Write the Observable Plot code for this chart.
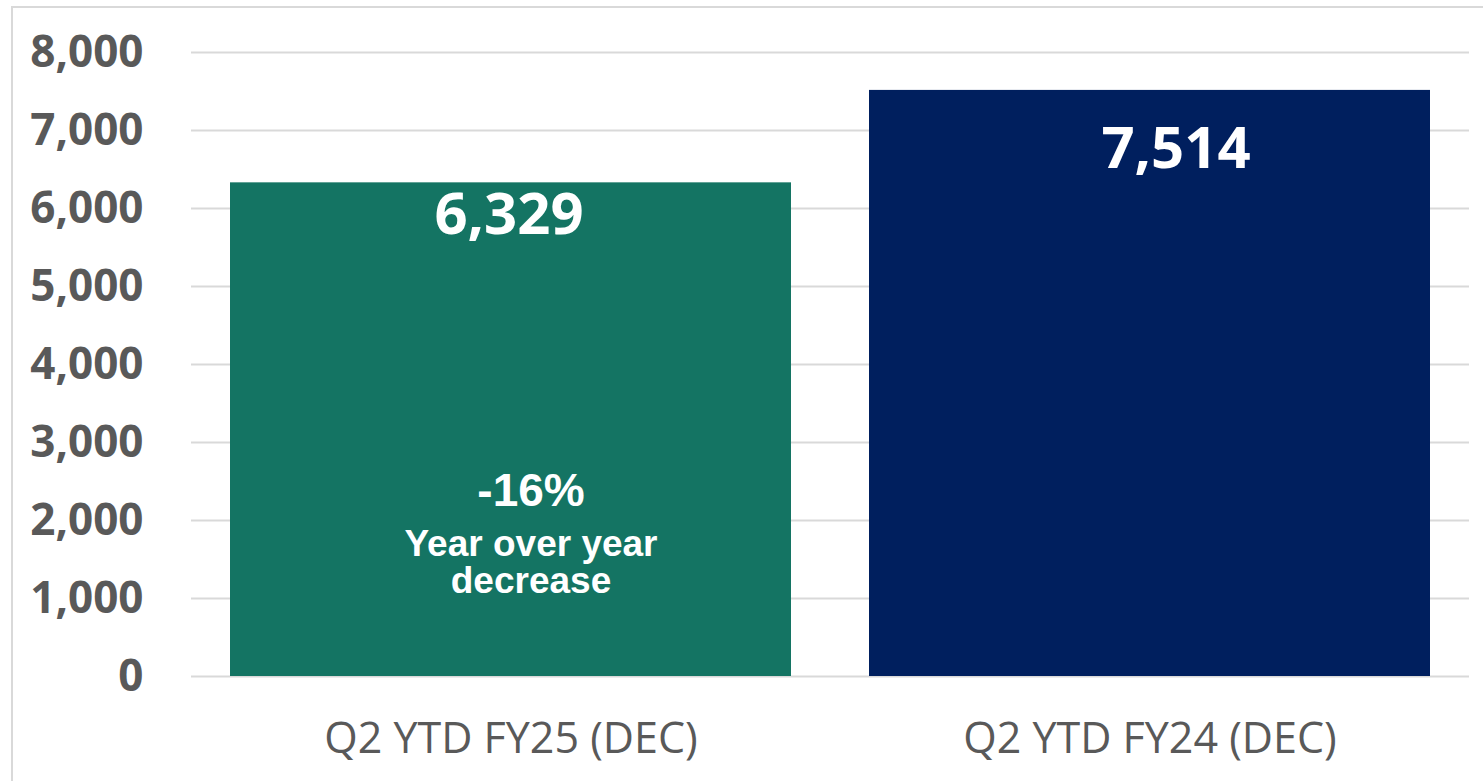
<!DOCTYPE html>
<html>
<head>
<meta charset="utf-8">
<script src="https://cdn.jsdelivr.net/npm/d3@7"></script>
<script src="https://cdn.jsdelivr.net/npm/@observablehq/plot@0.6"></script>
<style>
  html, body { margin: 0; padding: 0; background: #fff; overflow: hidden; }
  #wrap { position: relative; width: 1483px; height: 781px; }
  #frame { position: absolute; left: 11px; top: 6px; width: 1500px; height: 800px;
           border-top: 2px solid #d9d9d9; border-left: 2px solid #d9d9d9; pointer-events: none; }
</style>
</head>
<body>
<div id="wrap"><div id="chart"></div><div id="frame"></div></div>
<script>
const categories = ["Q2 YTD FY25 (DEC)", "Q2 YTD FY24 (DEC)"];
const values = [6329, 7514];
const yTicks = [0, 1000, 2000, 3000, 4000, 5000, 6000, 7000, 8000];
const annotationPct = "-16%";
const annotationLines = ["Year over year", "decrease"];
const barColors = ["#147463", "#001F5E"];

const data = categories.map((c, i) => ({period: c, value: values[i]}));
const fmt = d3.format(",");

const chart = Plot.plot({
  width: 1483,
  height: 781,
  marginLeft: 191,
  marginRight: 14,
  marginTop: 52,
  marginBottom: 105,
  style: {fontFamily: "'Open Sans', sans-serif", background: "transparent"},
  x: {domain: categories, paddingInner: 0.122, paddingOuter: 0.061, label: null},
  y: {domain: [0, 8000], label: null},
  color: {domain: categories, range: barColors},
  marks: [
    Plot.gridY(yTicks, {stroke: "#d9d9d9", strokeOpacity: 1, strokeWidth: 2}),
    Plot.barY(data, {x: "period", y: "value", fill: "period"}),
    Plot.text([data[0]], {x: "period", y: "value", text: d => fmt(d.value), fill: "white",
      fontSize: 58, fontWeight: "bold", lineAnchor: "bottom", dy: 51, dx: -2}),
    Plot.text([data[1]], {x: "period", y: "value", text: d => fmt(d.value), fill: "white",
      fontSize: 58, fontWeight: "bold", lineAnchor: "bottom", dy: 78, dx: 26}),
    Plot.text([data[0]], {x: "period", y: 0, text: () => annotationPct, fill: "white",
      fontFamily: "'Liberation Sans', Arial, sans-serif", fontSize: 46, fontWeight: "bold",
      lineAnchor: "bottom", dy: -171, dx: 20}),
    Plot.text([data[0]], {x: "period", y: 0, text: () => annotationLines[0], fill: "white",
      fontFamily: "'Liberation Sans', Arial, sans-serif", fontSize: 37, fontWeight: "bold",
      lineAnchor: "bottom", dy: -121, dx: 20}),
    Plot.text([data[0]], {x: "period", y: 0, text: () => annotationLines[1], fill: "white",
      fontFamily: "'Liberation Sans', Arial, sans-serif", fontSize: 37, fontWeight: "bold",
      lineAnchor: "bottom", dy: -84, dx: 20}),
    Plot.axisY(yTicks, {tickSize: 0, tickPadding: 48, tickFormat: fmt, fontSize: 44,
      fontWeight: "bold", color: "#595959", label: null}),
    Plot.axisX({tickSize: 0, tickPadding: 46, fontSize: 43, color: "#595959", label: null})
  ]
});
document.getElementById("chart").appendChild(chart);
</script>
</body>
</html>
